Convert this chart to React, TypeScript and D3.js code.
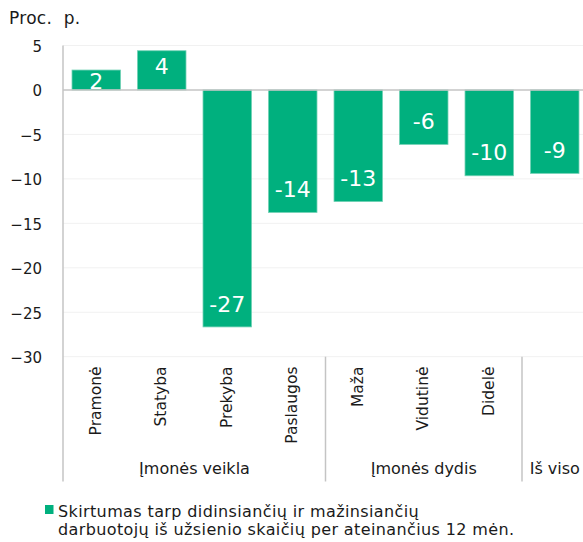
import React from "react";
import * as d3 from "d3";

const categories = ["Pramonė", "Statyba", "Prekyba", "Paslaugos", "Maža", "Vidutinė", "Didelė", "Iš viso"];
const tickLabels = ["Pramonė", "Statyba", "Prekyba", "Paslaugos", "Maža", "Vidutinė", "Didelė", ""];
const values = [2.24, 4.41, -26.65, -13.77, -12.55, -6.12, -9.65, -9.38];
const groups = [
  { name: "Įmonės veikla", from: 0, to: 3 },
  { name: "Įmonės dydis", from: 4, to: 6 },
  { name: "Iš viso", from: 7, to: 7 },
];
const yTicks = [5, 0, -5, -10, -15, -20, -25, -30];
const yTitle = "Proc.  p.";
const legendLines = [
  "Skirtumas tarp didinsiančių ir mažinsiančių",
  "darbuotojų iš užsienio skaičių per ateinančius 12 mėn.",
];

const W = 583;
const H = 542;
const FONT = "'DejaVu Sans', Verdana, sans-serif";
const GREEN = "#00b07e";
const AXIS = "#c4c4c4";
const GRID = "#f1f1f1";
const TEXT = "#1a1a1a";

export default function App() {
  const x = d3
    .scaleBand<string>()
    .domain(categories)
    .range([63.5, 587.5])
    .paddingInner(0.26)
    .paddingOuter(0.13);
  const y = d3.scaleLinear().domain([-30, 5]).range([356.7, 45.5]);
  const y0 = y(0);
  const fmt = (v: number) => String(Math.round(v));
  const bottom = 481.5;

  return (
    <svg
      width={W}
      height={H}
      style={{ position: "absolute", left: 0, top: 0, fontFamily: FONT }}
    >
      <rect width={W} height={H} fill="#fff" />
      <text x={9} y={24} fontSize={17} letterSpacing={0.3} fill={TEXT} style={{ whiteSpace: "pre" }}>
        {yTitle}
      </text>
      {yTicks.map((t) => (
        <g key={t}>
          {t !== 0 && (
            <line x1={63} x2={W} y1={y(t)} y2={y(t)} stroke={GRID} strokeWidth={1} />
          )}
          <text x={42} y={y(t) + 6.5} textAnchor="end" fontSize={15} fill={TEXT}>
            {t < 0 ? "\u2212" + Math.abs(t) : String(t)}
          </text>
        </g>
      ))}
      {categories.map((c, i) => {
        const v = values[i];
        const bx = x(c)!;
        const top = Math.min(y(v), y0);
        const h = Math.abs(y(v) - y0);
        const cx = bx + x.bandwidth() / 2;
        const ly = v >= 0 ? Math.min(y(v) + 23.3, y0 - 1) : y(v) - 15.3;
        return (
          <g key={c}>
            <rect
              x={bx}
              y={top}
              width={x.bandwidth()}
              height={h}
              fill={GREEN}
              stroke="#6fd0b3"
              strokeWidth={0.8}
            />
            <text x={cx} y={ly} textAnchor="middle" fontSize={22} fill="#fff">
              {fmt(v)}
            </text>
            {tickLabels[i] && (
              <text
                transform={`translate(${cx + 4.5},366.5) rotate(-90)`}
                textAnchor="end"
                fontSize={15.5}
                fill={TEXT}
              >
                {tickLabels[i]}
              </text>
            )}
          </g>
        );
      })}
      <line x1={63} x2={W} y1={y0} y2={y0} stroke={AXIS} strokeWidth={1.5} />
      <line x1={63} x2={63} y1={45.5} y2={bottom} stroke={AXIS} strokeWidth={1.5} />
      {groups.map((g, gi) => {
        const x0 = x(categories[g.from])! - (x.step() * x.paddingInner()) / 2;
        const x1 = x(categories[g.to])! + x.bandwidth() + (x.step() * x.paddingInner()) / 2;
        return (
          <g key={g.name}>
            {gi > 0 && (
              <line x1={x0} x2={x0} y1={y(-30)} y2={bottom} stroke={AXIS} strokeWidth={1.5} />
            )}
            <text x={(x0 + x1) / 2} y={474} textAnchor="middle" fontSize={16} fill={TEXT}>
              {g.name}
            </text>
          </g>
        );
      })}
      <rect x={45} y={505} width={8.5} height={9} fill={GREEN} />
      {legendLines.map((l, i) => (
        <text
          key={i}
          x={58}
          y={516.7 + i * 18.4}
          fontSize={16}
          letterSpacing={0.38}
          fill={TEXT}
        >
          {l}
        </text>
      ))}
    </svg>
  );
}
